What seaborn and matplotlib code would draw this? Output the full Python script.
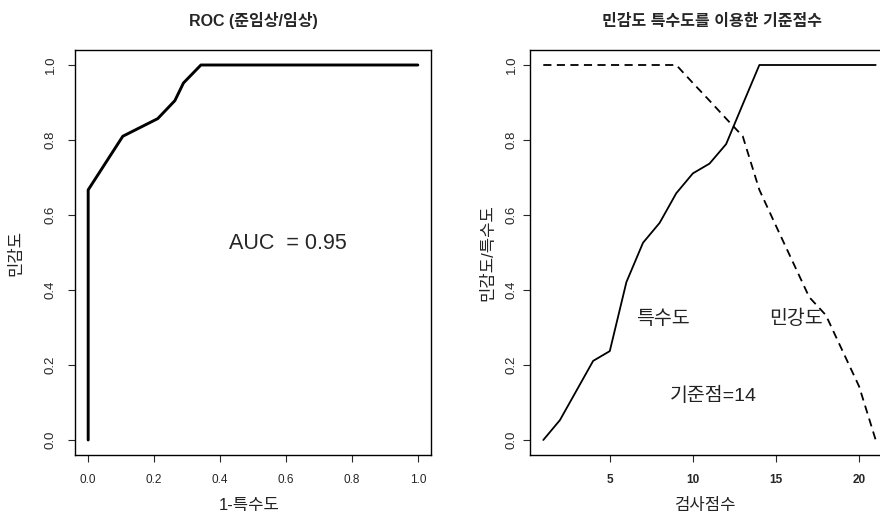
import numpy as np
import pandas as pd
import matplotlib
matplotlib.use("Agg")
import matplotlib.pyplot as plt
import seaborn as sns

# cut-off scores and the read-off sensitivity / specificity at each
scores = list(range(1, 22))
sensitivity = [1.0, 1.0, 1.0, 1.0, 1.0, 1.0, 1.0, 1.0, 1.0,
               0.952, 0.905, 0.857, 0.810, 0.667, 0.571, 0.476,
               0.381, 0.333, 0.238, 0.143, 0.0]
specificity = [0.0, 0.053, 0.132, 0.211, 0.237, 0.421, 0.526, 0.579,
               0.658, 0.711, 0.737, 0.789, 0.895, 1.0, 1.0, 1.0,
               1.0, 1.0, 1.0, 1.0, 1.0]
auc_text = "AUC  = 0.95"
cutoff_text = "기준점=14"
unit_ticks = [0.0, 0.2, 0.4, 0.6, 0.8, 1.0]
score_ticks = [5, 10, 15, 20]

sns.set_style("ticks")
plt.rcParams['font.family'] = ['Liberation Sans', 'Noto Sans CJK KR', 'DejaVu Sans']
plt.rcParams['axes.edgecolor'] = 'black'
plt.rcParams['axes.linewidth'] = 1.0

df = pd.DataFrame({'score': scores, 'sens': sensitivity, 'spec': specificity})
df['fpr'] = 1 - df['spec']

fig = plt.figure(figsize=(8.8, 5.19), dpi=100)
ax1 = fig.add_axes([75/880, 64/519, 356/880, 405/519])
ax2 = fig.add_axes([530/880, 64/519, 359/880, 405/519])

# ROC curve
sns.lineplot(data=df, x='fpr', y='sens', ax=ax1, color='black', lw=2.1,
             estimator=None, sort=False)
ax1.set_xlim(-0.04, 1.04)
ax1.set_ylim(-0.04, 1.04)
ax1.set_xticks(unit_ticks)
ax1.set_xticklabels([f"{t:.1f}" for t in unit_ticks])
ax1.set_yticks(unit_ticks)
ax1.set_yticklabels([f"{t:.1f}" for t in unit_ticks], rotation=90, va='center')
ax1.text(0.605, 0.524, auc_text, fontsize=15.5, ha='center', va='center')
ax1.set_title("ROC (준임상/임상)", fontsize=11.5, fontweight='bold', pad=17)
ax1.set_xlabel("1-특수도", fontsize=12, color='#222222')
ax1.set_ylabel("민감도", fontsize=12, color='#222222')
ax1.xaxis.set_label_coords(0.49, -0.105)
ax1.yaxis.set_label_coords(-0.145, 0.5)
ax1.tick_params(axis='x', length=5, labelsize=8.5, pad=9)
ax1.tick_params(axis='y', length=5, labelsize=9.5, pad=8)

# sensitivity / specificity by score
sns.lineplot(data=df, x='score', y='spec', ax=ax2, color='black', lw=1.3,
             estimator=None)
sns.lineplot(data=df, x='score', y='sens', ax=ax2, color='black', lw=1.3,
             estimator=None, linestyle=(0, (4.5, 3)))
ax2.set_xlim(0.2, 21.8)
ax2.set_ylim(-0.04, 1.04)
ax2.set_xticks(score_ticks)
ax2.set_xticklabels([str(t) for t in score_ticks], fontweight='bold')
ax2.set_yticks(unit_ticks)
ax2.set_yticklabels([f"{t:.1f}" for t in unit_ticks], rotation=90, va='center')
ax2.text(8.2, 0.323, "특수도", fontsize=14, ha='center', va='center', color='#222222')
ax2.text(16.2, 0.323, "민강도", fontsize=14, ha='center', va='center', color='#222222')
ax2.text(11.2, 0.118, cutoff_text, fontsize=14, ha='center', va='center', color='#222222')
ax2.set_title("민감도 특수도를 이용한 기준점수", fontsize=11.5, fontweight='bold',
              pad=17, x=(712-530)/359)
ax2.set_xlabel("검사점수", fontsize=12, color='#222222')
ax2.set_ylabel("민감도/특수도", fontsize=12, color='#222222')
ax2.xaxis.set_label_coords((705-530)/359, -0.105)
ax2.yaxis.set_label_coords(-0.097, 0.5)
ax2.tick_params(axis='x', length=5, labelsize=8.5, pad=9)
ax2.tick_params(axis='y', length=5, labelsize=9.5, pad=4)

for ax in (ax1, ax2):
    for s in ax.spines.values():
        s.set_visible(True)
        s.set_color('black')

fig.savefig("out.png", dpi=100)
